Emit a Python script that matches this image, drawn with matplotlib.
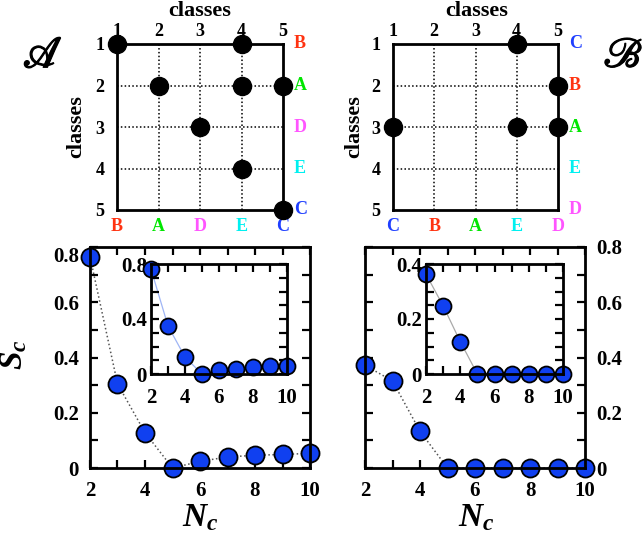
import matplotlib
matplotlib.use('Agg')
import matplotlib.pyplot as plt
import matplotlib.patheffects as pe
from matplotlib.ticker import MultipleLocator

plt.rcParams.update({
    'font.family': 'Liberation Serif',
    'font.weight': 'bold',
    'mathtext.fontset': 'custom',
    'mathtext.it': 'Liberation Serif:italic:bold',
    'mathtext.rm': 'Liberation Serif:bold',
    'mathtext.bf': 'Liberation Serif:bold',
})

# ---------------- data ----------------
positions = [1, 2, 3, 4, 5]
pos_labels = ['1', '2', '3', '4', '5']

A_cols = [1, 4, 2, 4, 5, 3, 4, 5]
A_rows = [1, 1, 2, 2, 2, 3, 4, 5]
A_letters = ['B', 'A', 'D', 'E', 'C']

B_cols = [4, 5, 1, 4, 5]
B_rows = [1, 2, 3, 3, 3]
B_letters = ['C', 'B', 'A', 'E', 'D']

letter_colors = {'A': '#00e600', 'B': '#ff3311', 'C': '#1f3fff',
                 'D': '#ff55ff', 'E': '#00f0f0'}

Nc = [2, 3, 4, 5, 6, 7, 8, 9, 10]
SA_main = [0.765, 0.305, 0.128, 0.0, 0.024, 0.040, 0.046, 0.049, 0.053]
SA_inset = [0.763, 0.350, 0.123, 0.0, 0.027, 0.037, 0.049, 0.056, 0.061]
SB_main = [0.372, 0.315, 0.133, 0.0, 0.0, 0.0, 0.0, 0.0, 0.0]
SB_inset = [0.363, 0.248, 0.118, 0.0, 0.0, 0.0, 0.0, 0.0, 0.0]

main_yticks = [0, 0.2, 0.4, 0.6, 0.8]
main_ylabels = ['0', '0.2', '0.4', '0.6', '0.8']
insA_yticks = [0, 0.4, 0.8]
insA_ylabels = ['0', '0.4', '0.8']
insB_yticks = [0, 0.2, 0.4]
insB_ylabels = ['0', '0.2', '0.4']
xticks = [2, 4, 6, 8, 10]
xlabels = ['2', '4', '6', '8', '10']

W, H = 644, 541
fig = plt.figure(figsize=(W / 100, H / 100), dpi=100)


def rect(x0, y0, x1, y1):
    return [x0 / W, 1 - y1 / H, (x1 - x0) / W, (y1 - y0) / H]


BLUE = '#1040f0'


def matrix(r, cols, rows, letters, top_lab, left_lab):
    ax = fig.add_axes(r)
    ax.set_xlim(1, 5)
    ax.set_ylim(5, 1)
    for v in positions[1:-1]:
        ax.axvline(v, ls=(0, (1, 1.5)), color='k', lw=1.1, zorder=1)
        ax.axhline(v, ls=(0, (1, 1.5)), color='k', lw=1.1, zorder=1)
    ax.plot(cols, rows, 'o', color='k', ms=13, clip_on=False, zorder=5)
    ax.set_xticks(positions)
    ax.set_xticklabels(pos_labels)
    ax.set_yticks(positions)
    ax.set_yticklabels(pos_labels)
    ax.xaxis.tick_top()
    ax.tick_params(axis='x', length=0, labelsize=13, pad=3)
    ax.tick_params(axis='y', length=0, labelsize=13, pad=9)
    for s in ax.spines.values():
        s.set_linewidth(2)
    for i, L in zip(positions, letters):
        ax.annotate(L, xy=(1, i), xycoords=('axes fraction', 'data'),
                    xytext=(8, 0), textcoords='offset points', ha='left',
                    va='center', color=letter_colors[L], fontsize=13,
                    fontweight='bold', annotation_clip=False)
        ax.annotate(L, xy=(i, 0), xycoords=('data', 'axes fraction'),
                    xytext=(0, -6), textcoords='offset points', ha='center',
                    va='top', color=letter_colors[L], fontsize=13,
                    fontweight='bold', annotation_clip=False)
    fig.text(top_lab[0] / W, 1 - top_lab[1] / H, 'classes', ha='center',
             va='center', fontsize=16, fontweight='bold')
    fig.text(left_lab[0] / W, 1 - left_lab[1] / H, 'classes', ha='center',
             va='center', fontsize=16, fontweight='bold', rotation=90)
    return ax


matrix(rect(117, 44, 283, 210), A_cols, A_rows, A_letters, (200, 11), (76, 127))
matrix(rect(393, 44, 558, 210), B_cols, B_rows, B_letters, (477, 11), (354, 127))


def panel(r, y, yticks, ylabels, ylim, yminor, ms, lc, ls, lw,
          right=False, xpad=9, ypad=8, top_va=False):
    ax = fig.add_axes(r)
    ax.plot(Nc, y, ls=ls, color=lc, lw=lw, zorder=1, clip_on=False)
    ax.plot(Nc, y, 'o', color=BLUE, mec='k', mew=1.3, ms=ms, ls='none',
            clip_on=False, zorder=2)
    ax.set_xlim(2, 10)
    ax.set_ylim(*ylim)
    ax.set_xticks(xticks)
    ax.set_xticklabels(xlabels)
    ax.set_yticks(yticks)
    ax.set_yticklabels(ylabels)
    ax.xaxis.set_minor_locator(MultipleLocator(1))
    ax.yaxis.set_minor_locator(MultipleLocator(yminor))
    ax.tick_params(which='both', direction='in', top=True, right=True,
                   length=6, width=1.6, labelsize=15)
    ax.tick_params(axis='x', pad=xpad)
    ax.tick_params(axis='y', pad=ypad)
    if right:
        ax.tick_params(axis='y', labelleft=False, labelright=True)
    for s in ax.spines.values():
        s.set_linewidth(2)
    if top_va:
        for t in ax.yaxis.get_major_ticks()[-1:]:
            t.label1.set_va('top')
            t.label2.set_va('top')
    return ax


panel(rect(90, 247, 310, 468), SA_main, main_yticks, main_ylabels, (0, 0.8),
      0.1, 13, '#555555', ':', 1.1, top_va=True)
panel(rect(151, 264, 287, 374), SA_inset, insA_yticks, insA_ylabels, (0, 0.8),
      0.1, 11.5, '#9fb5f5', '-', 0.9, xpad=10, ypad=3)
panel(rect(365, 247, 585, 468), SB_main, main_yticks, main_ylabels, (0, 0.8),
      0.1, 13, '#555555', ':', 1.1, right=True)
panel(rect(426, 264, 563, 374), SB_inset, insB_yticks, insB_ylabels, (0, 0.4),
      0.05, 11.5, '#aaaaaa', '-', 0.9, xpad=10, ypad=3)

# axis labels
fig.text(14 / W, 1 - 355 / H, r'$S_c$', rotation=90, ha='center', va='center',
         fontsize=24)
fig.text(200 / W, 1 - 518 / H, r'$N_c$', ha='center', va='center', fontsize=24)
fig.text(476 / W, 1 - 518 / H, r'$N_c$', ha='center', va='center', fontsize=24)

# panel letters (script A and B)
stroke = [pe.withStroke(linewidth=0.9, foreground='k')]
fig.text(42 / W, 1 - 57 / H, '\U0001D49C', ha='center', va='center',
         fontsize=32, family=['STIXGeneral', 'DejaVu Serif'],
         fontweight='normal', fontstyle='normal', path_effects=stroke)
fig.text(643 / W, 1 - 57 / H, '\u212C', ha='right', va='center',
         fontsize=30, family=['STIXGeneral', 'DejaVu Serif'],
         fontweight='normal', fontstyle='normal', path_effects=stroke)

fig.savefig('out.png', dpi=100)
